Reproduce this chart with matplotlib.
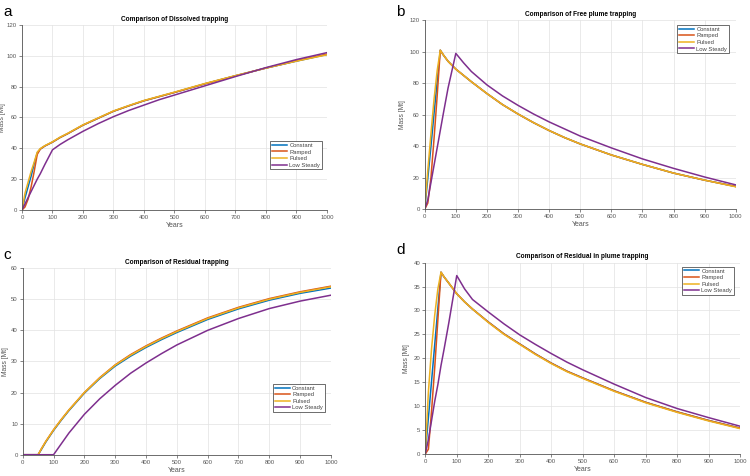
import matplotlib
matplotlib.use("Agg")
import matplotlib.pyplot as plt

plt.rcParams['font.family'] = ['Liberation Sans', 'DejaVu Sans']

years = [0, 10, 20, 30, 40, 50, 60, 75, 100, 125, 150, 200, 250, 300, 350,
         400, 450, 500, 600, 700, 800, 900, 1000]
series_names = ["Constant", "Ramped", "Pulsed", "Low Steady"]
colors = ["#0072BD", "#D95319", "#EDB120", "#7E2F8E"]

# a: Dissolved trapping
dis_constant = [0, 8, 15, 22, 30, 37, 39.5, 41.5, 44, 47, 49.5, 55, 59.5, 64, 67.5,
                70.8, 73.5, 76.2, 81.8, 87, 92, 96.5, 100.8]
dis_ramped = [0, 2, 7, 15, 25, 36, 39.5, 41.5, 44, 47, 49.5, 55, 59.5, 64, 67.5,
              70.8, 73.5, 76.2, 81.8, 87, 92, 96.7, 101]
dis_pulsed = [0, 11, 18, 25, 31, 37.5, 39.8, 41.7, 44.2, 47.2, 49.7, 55.2, 59.7, 64.2, 67.7,
              71, 73.7, 76.4, 82, 87.1, 92, 96.5, 100.6]
dis_low = [0, 4, 8, 12, 16, 20, 23.5, 29.5, 39, 42.5, 45.5, 51, 56, 60.5, 64.5,
           68, 71.5, 74.5, 80.5, 86.5, 92.3, 97.5, 102]

# b: Free plume trapping
free_constant = [0, 20, 40, 61, 81, 101, 98, 94, 89, 85, 81, 73.5, 66.5, 60.5, 55,
                 50, 45.5, 41.5, 34.5, 28.5, 23, 18.5, 14.5]
free_ramped = [0, 4, 20, 45, 72, 101, 98, 94, 89, 85, 81, 73.5, 66.5, 60.5, 55,
               50, 45.5, 41.5, 34.5, 28.5, 23, 18.5, 14.5]
free_pulsed = [0, 25, 48, 70, 88, 101, 98, 94, 89, 85, 81, 73.5, 66.5, 60.5, 55,
               50, 45.5, 41.5, 34.5, 28.5, 23, 18.5, 14.3]
free_low = [0, 6, 17, 28, 39, 50, 61, 77, 99, 93, 87.5, 79, 72, 66, 60.5,
            55.5, 51, 46.5, 39, 32, 26, 20.5, 15.5]

# c: Residual trapping
res_constant = [0, 0, 0, 0, 0, 0, 1.6, 4.1, 7.8, 11.1, 14.2, 19.8, 24.5, 28.5, 31.7,
                34.5, 37.0, 39.3, 43.5, 46.9, 49.7, 51.9, 53.6]
res_ramped = [0, 0, 0, 0, 0, 0, 1.8, 4.3, 8.0, 11.3, 14.4, 20.0, 24.8, 28.9, 32.2,
              35.0, 37.5, 39.8, 44.0, 47.4, 50.2, 52.4, 54.2]
res_pulsed = [0, 0, 0, 0, 0, 0, 1.8, 4.3, 8.0, 11.3, 14.4, 20.0, 24.7, 28.8, 32.0,
              34.8, 37.3, 39.6, 43.8, 47.2, 50.0, 52.2, 54.0]
res_low = [0, 0, 0, 0, 0, 0, 0, 0, 0, 3.5, 7, 13, 18, 22.3, 26.2,
           29.5, 32.5, 35.3, 40, 43.8, 47, 49.4, 51.3]

# d: Residual in plume trapping
rip_constant = [0, 7.6, 15.2, 22.8, 30.4, 38, 37, 35.7, 33.5, 31.8, 30.3, 27.6, 25.1, 23, 20.9,
                19, 17.3, 15.9, 13.2, 10.8, 8.8, 7, 5.4]
rip_ramped = [0, 1, 9, 18, 28, 38, 37, 35.7, 33.5, 31.8, 30.3, 27.6, 25.1, 23, 20.9,
              19, 17.3, 15.9, 13.2, 10.8, 8.8, 7, 5.4]
rip_pulsed = [0, 13, 22, 29, 34.5, 38, 37, 35.7, 33.5, 31.8, 30.3, 27.5, 25, 22.9, 20.8,
              18.9, 17.2, 15.8, 13.1, 10.7, 8.7, 6.9, 5.3]
rip_low = [0, 3, 7, 11, 14.5, 18.5, 22, 27.5, 37.3, 34.5, 32.3, 29.7, 27.2, 24.9, 22.9,
           21, 19.2, 17.6, 14.6, 11.8, 9.5, 7.6, 5.8]

panels = [
    dict(title="Comparison of Dissolved trapping", data=[dis_constant, dis_ramped, dis_pulsed, dis_low],
         ylim=(0, 120), yticks=[0, 20, 40, 60, 80, 100, 120], rect=[0.0293, 0.5588, 0.4067, 0.389],
         legend_anchor=(0.984, 0.372), ylab_x=-0.052, letter="a", lpos=(0.004, 0.99)),
    dict(title="Comparison of Free plume trapping", data=[free_constant, free_ramped, free_pulsed, free_low],
         ylim=(0, 120), yticks=[0, 20, 40, 60, 80, 100, 120], rect=[0.5663, 0.5603, 0.4147, 0.397],
         legend_anchor=(0.978, 0.975), ylab_x=-0.06, letter="b", lpos=(0.528, 0.99)),
    dict(title="Comparison of Residual trapping", data=[res_constant, res_ramped, res_pulsed, res_low],
         ylim=(0, 60), yticks=[0, 10, 20, 30, 40, 50, 60], rect=[0.0303, 0.0447, 0.411, 0.392],
         legend_anchor=(0.98, 0.38), ylab_x=-0.044, letter="c", lpos=(0.004, 0.48)),
    dict(title="Comparison of Residual in plume trapping", data=[rip_constant, rip_ramped, rip_pulsed, rip_low],
         ylim=(0, 40), yticks=[0, 5, 10, 15, 20, 25, 30, 35, 40], rect=[0.567, 0.0462, 0.42, 0.402],
         legend_anchor=(0.98, 0.979), ylab_x=-0.048, letter="d", lpos=(0.528, 0.49)),
]

fig = plt.figure(figsize=(7.5, 4.76), dpi=100)
fig.patch.set_facecolor("white")

for p in panels:
    ax = fig.add_axes(p["rect"])
    for name, col, vals in zip(series_names, colors, p["data"]):
        ax.plot(years, vals, color=col, lw=1.1, label=name)
    ax.set_xlim(0, 1000)
    ax.set_ylim(*p["ylim"])
    ax.set_xticks(range(0, 1001, 100))
    ax.set_yticks(p["yticks"])
    ax.grid(True, color="#e2e2e2", lw=0.5)
    ax.set_axisbelow(True)
    for s in ["top", "right"]:
        ax.spines[s].set_visible(False)
    for s in ["left", "bottom"]:
        ax.spines[s].set_color("#555555")
        ax.spines[s].set_linewidth(0.6)
    ax.tick_params(labelsize=4.3, colors="#555555", length=2, width=0.5, pad=1.5)
    ax.set_title(p["title"], fontsize=4.7, fontweight="bold", pad=3)
    ax.set_xlabel("Years", fontsize=5.0, color="#555555", labelpad=1.5)
    ax.set_ylabel("Mass [Mt]", fontsize=4.8, color="#555555")
    ax.yaxis.set_label_coords(p["ylab_x"], 0.5)
    leg = ax.legend(loc="upper right", bbox_to_anchor=p["legend_anchor"], fontsize=4.2,
                    frameon=True, fancybox=False, edgecolor="#333333", framealpha=1,
                    handlelength=2.6, borderpad=0.3, labelspacing=0.25, handletextpad=0.4,
                    borderaxespad=0)
    for t in leg.get_texts():
        t.set_color("#444444")
    leg.get_frame().set_linewidth(0.5)
    fig.text(p["lpos"][0], p["lpos"][1], p["letter"], fontsize=11, va="top", ha="left")

fig.savefig("out.png", dpi=100)
